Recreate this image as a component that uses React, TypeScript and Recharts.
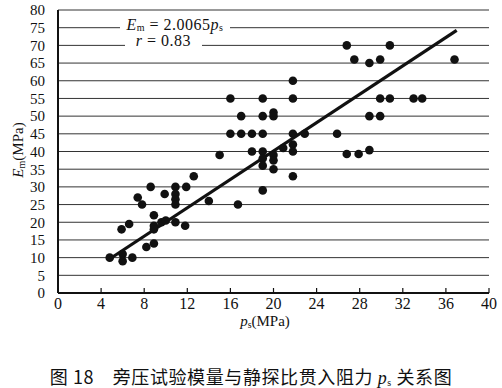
import { ScatterChart, Scatter, XAxis, YAxis, CartesianGrid, ReferenceLine } from 'recharts'

// p_s (MPa) and E_m (MPa)
const psValues = [
  4.8, 6.0, 6.0, 6.9, 8.2, 8.9, 5.9, 6.6, 8.9, 8.9, 8.9, 9.6, 10.0, 10.9, 11.8,
  7.4, 7.8, 8.6, 9.9, 10.9, 10.9, 10.9, 10.9, 11.9, 12.6, 14.0, 15.0, 16.7,
  18.0, 19.0, 19.0, 19.0, 19.0, 20.0, 20.0, 20.0,
  16.0, 19.0, 17.0, 19.0, 16.0, 17.0, 18.0, 19.0, 20.0, 20.0,
  21.8, 21.8, 21.8, 22.9, 25.9, 20.9, 21.8, 21.8, 21.8,
  26.8, 30.8, 27.5, 28.9, 29.9, 36.8,
  29.9, 30.8, 33.0, 33.8, 28.9, 29.9, 26.8, 27.9, 28.9,
]
const emValues = [
  10, 11, 9, 10, 13, 14, 18, 19.5, 22, 19, 18, 20, 20.5, 20, 19,
  27, 25, 30, 28, 30, 28, 26.5, 25, 30, 33, 26, 39, 25,
  40, 40, 38, 36, 29, 39, 37.5, 35,
  55, 55, 50, 50, 45, 45, 45, 45, 51, 50,
  60, 55, 45, 45, 45, 41, 42, 40, 33,
  70, 70, 66, 65, 66, 66,
  55, 55, 55, 55, 50, 50, 39.3, 39.3, 40.4,
]
const xTicks = [0, 4, 8, 12, 16, 20, 24, 28, 32, 36, 40]
const yTicks = [0, 5, 10, 15, 20, 25, 30, 35, 40, 45, 50, 55, 60, 65, 70, 75, 80]
const slope = 2.0065
const fitRange = [5, 37]

const points = psValues.map((ps, i) => ({ ps, em: emValues[i] }))

const serif = '"Times New Roman", Times, "Liberation Serif", "DejaVu Serif", serif'

const XTick = (props: any) => {
  const { x, y, payload } = props
  return (
    <g>
      <line x1={x} x2={x} y1={y} y2={y - 5} stroke="#111" strokeWidth={1.2} />
      <text x={x} y={y + 16} textAnchor="middle" fontSize={16} fontFamily={serif} fill="#111">
        {payload.value}
      </text>
    </g>
  )
}

const Dot = (props: any) => <circle cx={props.cx} cy={props.cy} r={4.3} fill="#111" />

const sub = { fontSize: 10, verticalAlign: 'baseline', position: 'relative' as const, top: 2 }
const subEq = { ...sub, top: 1 }

export default function App() {
  return (
    <div style={{ position: 'absolute', left: 0, top: 0, width: 502, height: 388, background: '#fff', fontFamily: serif, color: '#111' }}>
      <ScatterChart width={502} height={388} margin={{ top: 10, right: 13, bottom: 65, left: 0 }}>
        <CartesianGrid horizontal vertical={false} stroke="#333" strokeWidth={1} />
        <XAxis
          type="number"
          dataKey="ps"
          domain={[0, 40]}
          ticks={xTicks}
          interval={0}
          tickSize={0}
          tickMargin={0}
          tick={<XTick />}
          axisLine={{ stroke: '#111', strokeWidth: 2 }}
          height={30}
        />
        <XAxis xAxisId="top" orientation="top" type="number" domain={[0, 40]} tick={false} tickLine={false} axisLine={{ stroke: '#111', strokeWidth: 2 }} height={0} />
        <YAxis
          type="number"
          dataKey="em"
          domain={[0, 80]}
          ticks={yTicks}
          interval={0}
          tickLine={false}
          tickMargin={7}
          tick={{ fontSize: 15, fontFamily: serif, fill: '#111' }}
          axisLine={{ stroke: '#111', strokeWidth: 2 }}
          width={58}
        />
        <YAxis yAxisId="right" orientation="right" domain={[0, 80]} tick={false} tickLine={false} axisLine={{ stroke: '#111', strokeWidth: 2 }} width={0} />
        <ReferenceLine
          segment={[{ x: fitRange[0], y: slope * fitRange[0] }, { x: fitRange[1], y: slope * fitRange[1] }]}
          stroke="#111"
          strokeWidth={3.2}
        />
        <Scatter data={points} shape={<Dot />} isAnimationActive={false} />
      </ScatterChart>

      <div style={{ position: 'absolute', left: 120, top: 17, width: 110, height: 15, background: '#fff', fontSize: 16, textAlign: 'center', lineHeight: '15px', whiteSpace: 'nowrap', letterSpacing: 0.5 }}>
        <i>E</i><span style={subEq}>m</span> = 2.0065<i>p</i><span style={subEq}>s</span>
      </div>
      <div style={{ position: 'absolute', left: 125, top: 35, width: 77, height: 12, background: '#fff', fontSize: 16, textAlign: 'center', lineHeight: '12px', whiteSpace: 'nowrap', letterSpacing: 0.5 }}>
        <i>r</i> = 0.83
      </div>

      <div style={{ position: 'absolute', left: 18 - 40, top: 150 - 10, width: 80, height: 20, transform: 'rotate(-90deg)', fontSize: 15, textAlign: 'center', lineHeight: '20px', whiteSpace: 'nowrap' }}>
        <i>E</i><span style={sub}>m</span>(MPa)
      </div>
      <div style={{ position: 'absolute', left: 225, top: 311, width: 80, height: 20, fontSize: 15, textAlign: 'center', lineHeight: '20px', whiteSpace: 'nowrap' }}>
        <i>p</i><span style={sub}>s</span>(MPa)
      </div>
      <div style={{ position: 'absolute', left: 0, top: 365, width: 502, height: 22, fontSize: 18, textAlign: 'center', lineHeight: '22px', whiteSpace: 'nowrap', letterSpacing: 0.6, fontFamily: '"Noto Sans CJK SC", sans-serif' }}>
        图 18　旁压试验模量与静探比贯入阻力 <i style={{ fontFamily: serif }}>p</i><span style={{ ...sub, fontFamily: serif }}>s</span> 关系图
      </div>
    </div>
  )
}
